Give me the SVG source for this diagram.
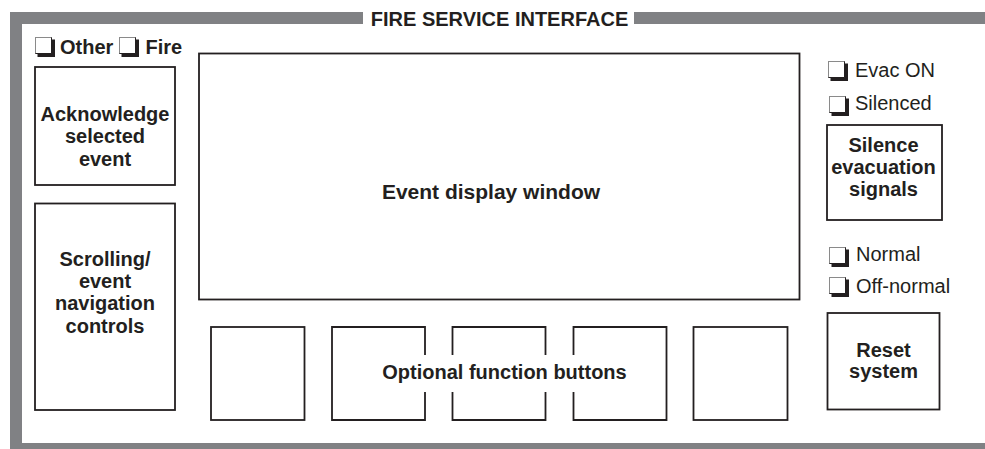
<svg xmlns="http://www.w3.org/2000/svg" xmlns:xlink="http://www.w3.org/1999/xlink" width="985" height="449" viewBox="0 0 985 449">
<style>
.frame{fill:#808184}
.box{fill:#fff;stroke:#231f20;stroke-width:1.8}
.gap{fill:none;stroke:#231f20;stroke-width:1.8}
.b{font-family:"Liberation Sans",Arial,sans-serif;font-weight:bold;font-size:20px;fill:#231f20}
.r{font-family:"Liberation Sans",Arial,sans-serif;font-size:20px;fill:#231f20}
.c{text-anchor:middle}
</style>
<defs>
<g id="cb">
<rect x="0.5" y="0.5" width="16" height="16" fill="#fff" stroke="#8a8a8a" stroke-width="1"/>
<path d="M16.5 2.5 H20 V20 H2.5 V16.5 H16.5 Z" fill="#231f20"/>
<path d="M16.5 0.5 V16.5 H0.5" fill="none" stroke="#231f20" stroke-width="1"/>
</g>
</defs>
<rect width="985" height="449" fill="#fff"/>
<g id="frame">
<rect class="frame" x="10" y="12" width="353" height="12"/>
<rect class="frame" x="634" y="12" width="351" height="12"/>
<rect class="frame" x="10" y="12" width="12" height="437"/>
<rect class="frame" x="10" y="443" width="975" height="6"/>
<text class="b c" x="499.5" y="25.5">FIRE SERVICE INTERFACE</text>
</g>
<g id="ind-other"><use xlink:href="#cb" x="35" y="37"/><text class="b" x="60" y="53.5">Other</text></g>
<g id="ind-fire"><use xlink:href="#cb" x="119" y="37"/><text class="b" x="145.5" y="53.5">Fire</text></g>
<g id="ack">
<rect class="box" x="35" y="67" width="140" height="118"/>
<text class="b c" x="105" y="120.5">Acknowledge</text>
<text class="b c" x="105" y="143">selected</text>
<text class="b c" x="105" y="165.5">event</text>
</g>
<g id="scroll">
<rect class="box" x="35" y="203.5" width="140" height="206.5"/>
<text class="b c" x="105" y="266">Scrolling/</text>
<text class="b c" x="105" y="288">event</text>
<text class="b c" x="105" y="310">navigation</text>
<text class="b c" x="105" y="332.5">controls</text>
</g>
<g id="display">
<rect class="box" x="199" y="53.5" width="600.5" height="246"/>
<text class="b c" x="491" y="199" style="font-size:21px">Event display window</text>
</g>
<g id="ind-evac"><use xlink:href="#cb" x="828" y="61"/><text class="r" x="855" y="77">Evac ON</text></g>
<g id="ind-silenced"><use xlink:href="#cb" x="829" y="96"/><text class="r" x="855" y="109.5">Silenced</text></g>
<g id="silence">
<rect class="box" x="827" y="125" width="115" height="95"/>
<text class="b c" x="883.5" y="151.5">Silence</text>
<text class="b c" x="883.5" y="174">evacuation</text>
<text class="b c" x="883.5" y="196">signals</text>
</g>
<g id="ind-normal"><use xlink:href="#cb" x="829" y="247"/><text class="r" x="856" y="260.5">Normal</text></g>
<g id="ind-offnormal"><use xlink:href="#cb" x="829" y="277"/><text class="r" x="856" y="293">Off-normal</text></g>
<g id="reset">
<rect class="box" x="827.5" y="313" width="112" height="96.5"/>
<text class="b c" x="883.5" y="356.5">Reset</text>
<text class="b c" x="883.5" y="377.5">system</text>
</g>
<g id="buttons">
<rect class="box" x="211" y="327" width="93.5" height="93"/>
<path class="gap" d="M425 355 V327 H332 V420 H425 V392"/>
<path class="gap" d="M452.5 355 V327 H545.5 V355 M545.5 392 V420 H452.5 V392"/>
<path class="gap" d="M573.5 355 V327 H666.5 V420 H573.5 V392"/>
<rect class="box" x="693.5" y="327" width="94" height="93"/>
<text class="b c" x="504.5" y="378.5">Optional function buttons</text>
</g>
</svg>
